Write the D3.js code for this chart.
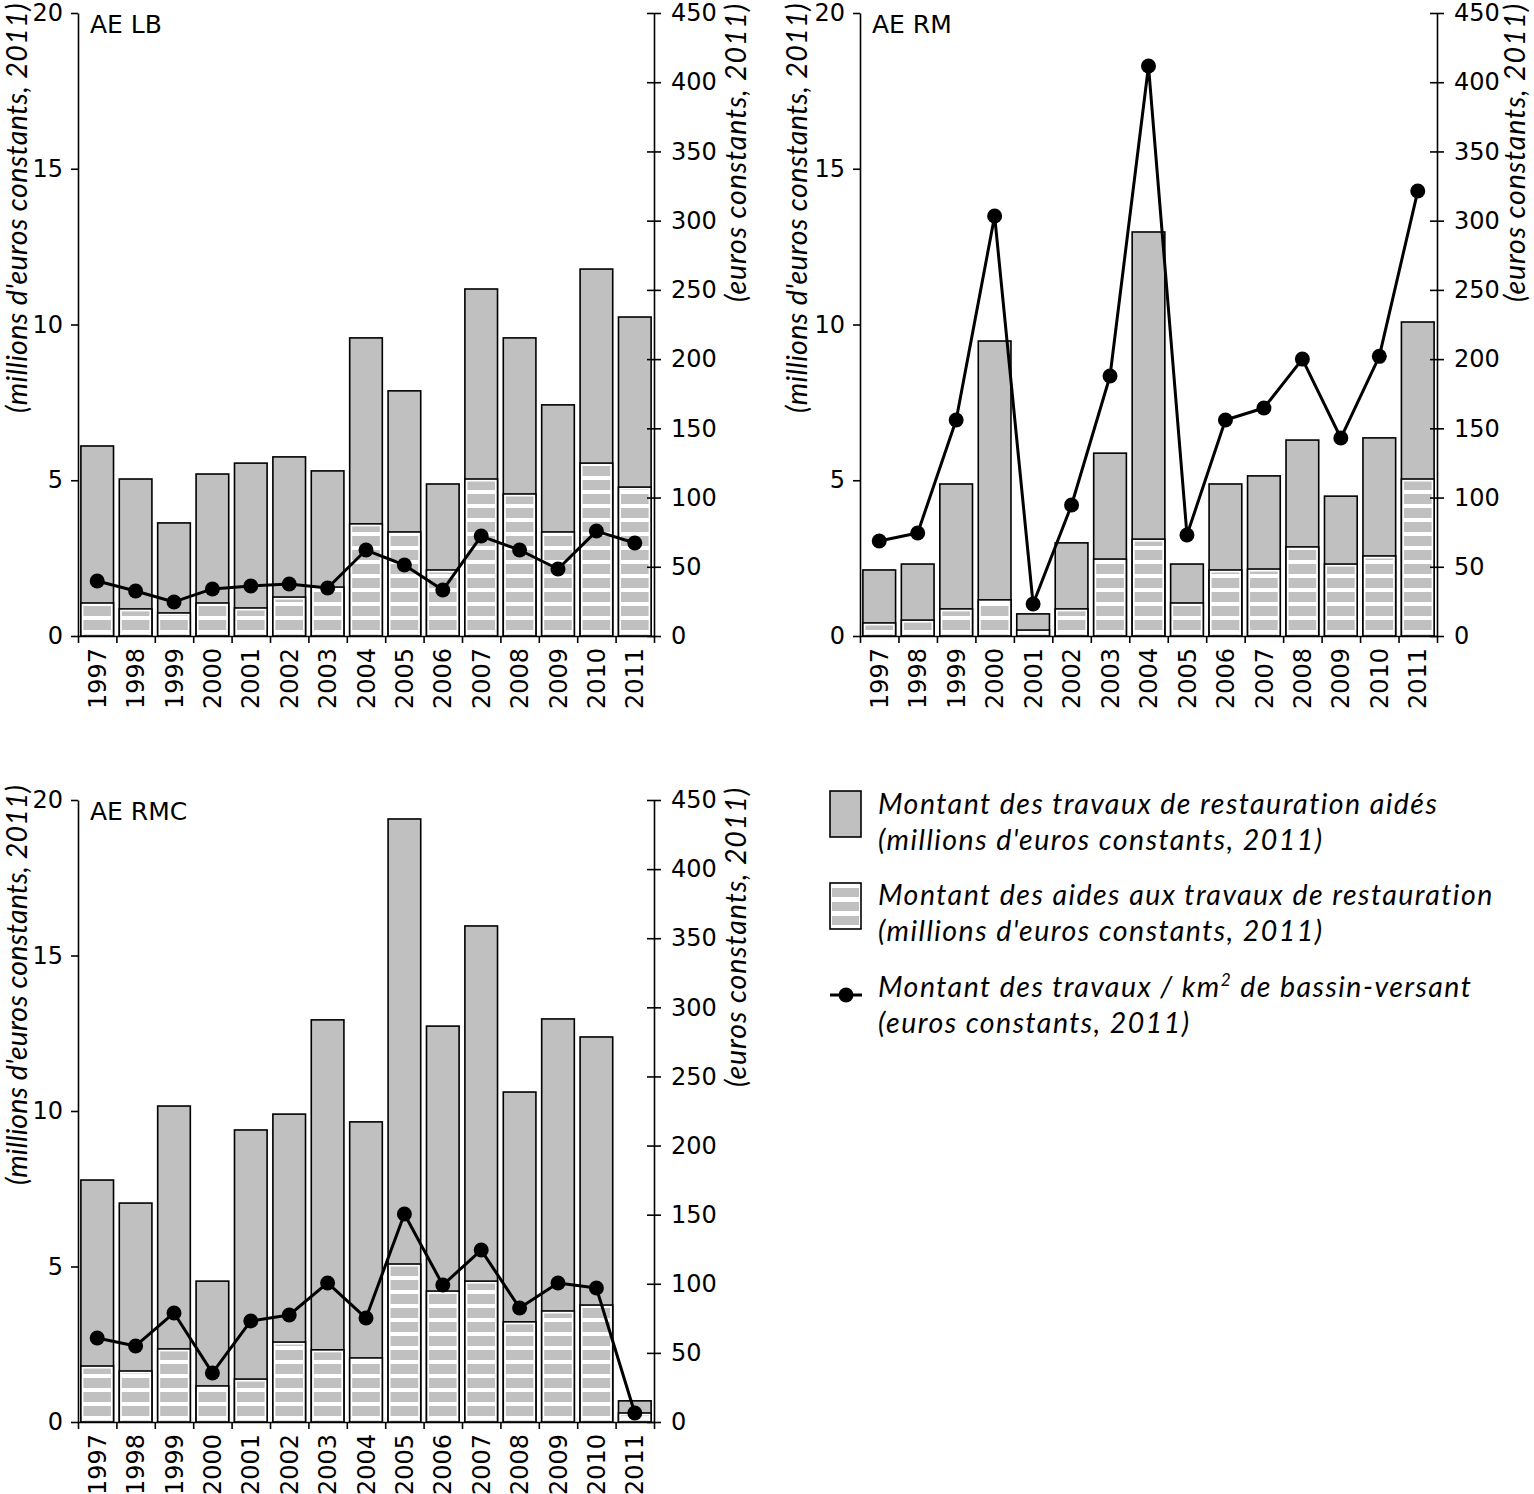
<!DOCTYPE html>
<html><head><meta charset="utf-8">
<script src="https://cdn.jsdelivr.net/npm/d3@7"></script>
<style>
body{margin:0;background:#fff;}
svg{display:block;}
.tick text{font-family:"DejaVu Sans",Verdana,sans-serif;font-size:24px;fill:#000;}
.ititle{font-family:Lato,"Open Sans",sans-serif;font-style:italic;fill:#000;}
</style></head><body>
<svg id="c" width="1534" height="1494"></svg>
<script>
// ---------- DATA ----------
const years = ["1997","1998","1999","2000","2001","2002","2003","2004","2005","2006","2007","2008","2009","2010","2011"];
const leftTicks = [0,5,10,15,20];
const rightTicks = [0,50,100,150,200,250,300,350,400,450];

// AE LB
const lbTravaux = [6.10,5.04,3.63,5.20,5.55,5.75,5.30,9.57,7.87,4.88,11.14,9.57,7.42,11.78,10.24];
const lbAides   = [1.06,0.87,0.74,1.06,0.90,1.25,1.57,3.60,3.34,2.12,5.04,4.56,3.34,5.55,4.78];
const lbParKm2  = [39.7,32.5,24.6,34.0,36.1,37.6,34.7,62.1,51.3,33.2,72.2,62.1,48.4,75.8,67.2];

// AE RM
const rmTravaux = [2.12,2.31,4.88,9.47,0.71,2.99,5.87,12.97,2.31,4.88,5.14,6.29,4.49,6.36,10.08];
const rmAides   = [0.42,0.51,0.87,1.16,0.19,0.87,2.47,3.11,1.06,2.12,2.15,2.86,2.31,2.57,5.04];
const rmParKm2  = [68.6,74.4,156,303.4,23.1,94.6,187.8,411.7,73,156,164.7,200,143,202,321.4];

// AE RMC
const rmcTravaux = [7.78,7.04,10.16,4.53,9.39,9.90,12.93,9.65,19.39,12.73,15.95,10.61,12.96,12.38,0.68];
const rmcAides   = [1.80,1.64,2.35,1.16,1.38,2.57,2.32,2.06,5.08,4.21,4.53,3.22,3.57,3.76,0.29];
const rmcParKm2  = [60.8,55,78.9,35.5,73.1,77.4,100.6,75.2,150.5,99.1,124.4,82.5,100.6,96.9,6.5];

const leftTitle = "(millions d'euros constants, 2011)";
const rightTitle = "(euros constants, 2011)";
const legendItems = [
  ["Montant des travaux de restauration aidés", "(millions d'euros constants, 2011)"],
  ["Montant des aides aux travaux de restauration", "(millions d'euros constants, 2011)"],
  ["Montant des travaux / km", "(euros constants, 2011)"]
];

// ---------- LAYOUT ----------
const panels = [
  {name:"AE LB", travaux:lbTravaux, aides:lbAides, km2:lbParKm2, x0:78, x1:654, y0:13, y1:636, lt:{x:27, a:3, b:413}, rt:{x:746, a:3, b:302}},
  {name:"AE RM", travaux:rmTravaux, aides:rmAides, km2:rmParKm2, x0:860, x1:1437, y0:13, y1:636, lt:{x:807, a:3, b:413}, rt:{x:1525, a:3, b:302}},
  {name:"AE RMC", travaux:rmcTravaux, aides:rmcAides, km2:rmcParKm2, x0:78, x1:654, y0:800, y1:1422, lt:{x:27, a:785, b:1185}, rt:{x:746, a:787, b:1087}}
];

const GRAY = "#c0c0c0";
const CAP = 28.5;
const svg = d3.select("#c");
const defs = svg.append("defs");

// font size capped, remaining width made up with letter spacing
function fitText(t, txt, target) {
  t.style("font-size", "28px");
  const len = t.node().getComputedTextLength();
  if (!(len > 0)) return;
  const fs = Math.min(CAP, 28 * target / len);
  t.style("font-size", fs.toFixed(2) + "px");
  const len2 = t.node().getComputedTextLength();
  const ls = Math.max(0, (target - len2) / txt.length);
  t.style("letter-spacing", ls.toFixed(2) + "px");
}

function rotatedTitle(g, txt, x, a, b) {
  const t = g.append("text").attr("class", "ititle")
    .attr("transform", `translate(${x},${(a + b) / 2}) rotate(-90)`)
    .style("text-anchor", "middle").text(txt);
  fitText(t, txt, b - a);
  return t;
}

panels.forEach((p, pi) => {
  const g = svg.append("g");
  const band = d3.scaleBand().domain(years).range([p.x0, p.x1]).paddingInner(0.15).paddingOuter(0.075);
  const bounds = d3.scaleLinear().domain([0, years.length]).range([p.x0, p.x1]);
  const yL = d3.scaleLinear().domain([0, 20]).range([p.y1, p.y0]);
  const yR = d3.scaleLinear().domain([0, 450]).range([p.y1, p.y0]);

  const pid = "stripes" + pi;
  const pat = defs.append("pattern").attr("id", pid).attr("patternUnits", "userSpaceOnUse")
    .attr("x", 0).attr("y", p.y1 - 2).attr("width", 20).attr("height", 14);
  pat.append("rect").attr("width", 20).attr("height", 14).attr("fill", "#fff");
  pat.append("rect").attr("width", 20).attr("height", 10).attr("fill", GRAY);

  g.selectAll("rect.tot").data(years).join("rect").attr("class", "tot")
    .attr("x", d => band(d)).attr("width", band.bandwidth())
    .attr("y", (d, i) => yL(p.travaux[i])).attr("height", (d, i) => yL(0) - yL(p.travaux[i]))
    .attr("fill", GRAY).attr("stroke", "#000").attr("stroke-width", 1.6);

  g.selectAll("rect.aid").data(years).join("rect").attr("class", "aid")
    .attr("x", d => band(d)).attr("width", band.bandwidth())
    .attr("y", (d, i) => yL(p.aides[i])).attr("height", (d, i) => yL(0) - yL(p.aides[i]))
    .attr("fill", "#fff").attr("stroke", "#000").attr("stroke-width", 1.6);
  g.selectAll("rect.aidin").data(years).join("rect").attr("class", "aidin")
    .attr("x", d => band(d) + 2.5).attr("width", band.bandwidth() - 5)
    .attr("y", (d, i) => yL(p.aides[i]) + 2.5)
    .attr("height", (d, i) => Math.max(0, yL(0) - yL(p.aides[i]) - 4))
    .attr("fill", `url(#${pid})`);

  const line = d3.line().x((d, i) => band(years[i]) + band.bandwidth() / 2).y(d => yR(d));
  g.append("path").datum(p.km2).attr("d", line).attr("fill", "none")
    .attr("stroke", "#000").attr("stroke-width", 3).attr("stroke-linejoin", "round");
  g.selectAll("circle").data(p.km2).join("circle")
    .attr("cx", (d, i) => band(years[i]) + band.bandwidth() / 2).attr("cy", d => yR(d))
    .attr("r", 7.5).attr("fill", "#000");

  const ax = g.append("g").attr("transform", `translate(${p.x0},0)`)
    .call(d3.axisLeft(yL).tickValues(leftTicks).tickSize(7).tickPadding(8).tickSizeOuter(0));
  const axR = g.append("g").attr("transform", `translate(${p.x1},0)`)
    .call(d3.axisRight(yR).tickValues(rightTicks).tickSize(7).tickPadding(10).tickSizeOuter(0));
  axR.selectAll(".tick line").attr("x1", -7);
  const axB = g.append("g").attr("transform", `translate(0,${p.y1})`)
    .call(d3.axisBottom(bounds).tickValues(d3.range(0, years.length + 1)).tickSize(7).tickFormat("").tickSizeOuter(0));
  const axL = g.append("g").attr("transform", `translate(0,${p.y1})`)
    .call(d3.axisBottom(band).tickSize(0).tickSizeOuter(0));
  axL.select(".domain").remove();
  axL.selectAll(".tick text").attr("transform", "rotate(-90)").attr("x", -12).attr("y", 0)
    .attr("dy", "0.36em").style("text-anchor", "end");
  [ax, axR, axB].forEach(a => { a.selectAll("path,line").attr("stroke", "#000").attr("stroke-width", 1.6); });

  g.append("text").attr("x", p.x0 + 12).attr("y", p.y0 + 20)
    .style("font-family", "DejaVu Sans, Verdana, sans-serif").style("font-size", "25px").text(p.name);

  rotatedTitle(g, leftTitle, p.lt.x, p.lt.a, p.lt.b);
  rotatedTitle(g, rightTitle, p.rt.x, p.rt.a, p.rt.b);
});

// ---------- LEGEND ----------
const lg = svg.append("g");
const lx = 830, tx = 878;
const rowY = [791, 883];
lg.append("rect").attr("x", lx).attr("y", rowY[0]).attr("width", 31).attr("height", 46)
  .attr("fill", GRAY).attr("stroke", "#000").attr("stroke-width", 1.6);
const lpat = defs.append("pattern").attr("id", "lstripes").attr("patternUnits", "userSpaceOnUse")
  .attr("x", 0).attr("y", rowY[1] + 3).attr("width", 20).attr("height", 14);
lpat.append("rect").attr("width", 20).attr("height", 14).attr("fill", "#fff");
lpat.append("rect").attr("y", 2).attr("width", 20).attr("height", 9).attr("fill", GRAY);
lg.append("rect").attr("x", lx).attr("y", rowY[1]).attr("width", 31).attr("height", 46)
  .attr("fill", "#fff").attr("stroke", "#000").attr("stroke-width", 1.6);
lg.append("rect").attr("x", lx + 2).attr("y", rowY[1] + 2).attr("width", 27).attr("height", 42)
  .attr("fill", "url(#lstripes)");
lg.append("line").attr("x1", lx).attr("x2", lx + 32).attr("y1", 995).attr("y2", 995)
  .attr("stroke", "#000").attr("stroke-width", 3);
lg.append("circle").attr("cx", lx + 16).attr("cy", 995).attr("r", 7.5).attr("fill", "#000");

// legend: font size + letter spacing so that the first line spans ~560px
const probe = lg.append("text").attr("class", "ititle").text(legendItems[0][0]);
fitText(probe, legendItems[0][0], 560);
const lfs = probe.style("font-size");
const lls = probe.style("letter-spacing");
const lfsNum = parseFloat(lfs);
probe.remove();

const baselines = [[814, 850], [905, 941], [997, 1033]];
legendItems.forEach((it, i) => {
  const t1 = lg.append("text").attr("class", "ititle").attr("x", tx).attr("y", baselines[i][0])
    .style("font-size", lfs).style("letter-spacing", lls);
  t1.append("tspan").text(it[0]);
  if (i === 2) {
    t1.append("tspan").attr("dy", -11).style("font-size", (lfsNum * 0.6) + "px").text("2");
    t1.append("tspan").attr("dy", 11).text(" de bassin-versant");
  }
  lg.append("text").attr("class", "ititle").attr("x", tx).attr("y", baselines[i][1])
    .style("font-size", lfs).style("letter-spacing", lls).text(it[1]);
});
</script>
</body></html>
